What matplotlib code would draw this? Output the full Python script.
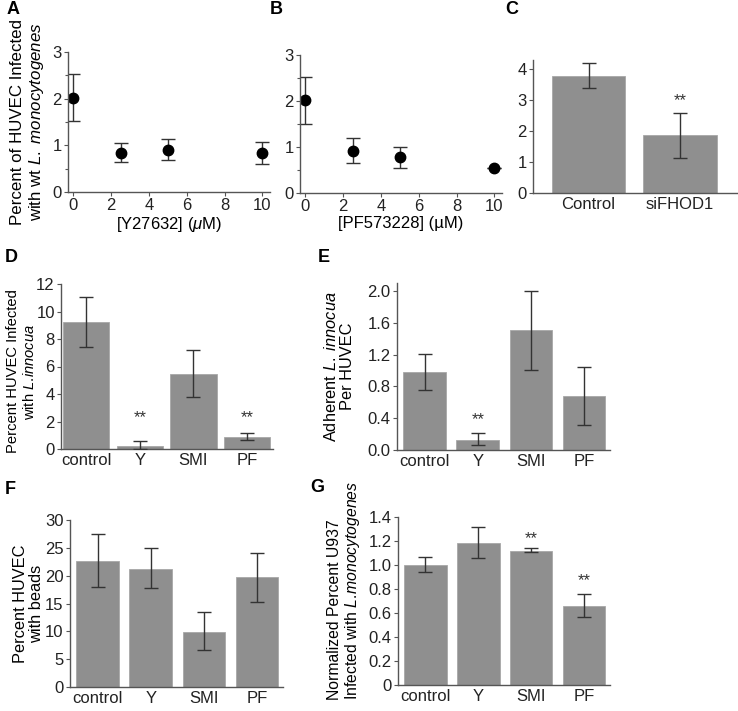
import matplotlib
matplotlib.use("Agg")
import matplotlib.pyplot as plt

plt.rcParams['font.family'] = ['Liberation Sans', 'DejaVu Sans']
plt.rcParams['mathtext.fontset'] = 'custom'
plt.rcParams['mathtext.rm'] = 'Liberation Sans'
plt.rcParams['mathtext.it'] = 'Liberation Sans:italic'

# panel A / B: dose response
dose = [0, 2.5, 5, 10]
y27632 = [2.02, 0.83, 0.91, 0.84]
y27632_lo = [1.52, 0.64, 0.68, 0.59]
y27632_hi = [2.53, 1.04, 1.13, 1.08]
pf573228 = [2.02, 0.92, 0.78, 0.54]
pf573228_lo = [1.51, 0.66, 0.54, 0.54]
pf573228_hi = [2.53, 1.19, 0.99, 0.54]

# panel C
sirna = ["Control", "siFHOD1"]
sirna_val = [3.79, 1.87]
sirna_lo = [3.38, 1.13]
sirna_hi = [4.21, 2.59]

drugs = ["control", "Y", "SMI", "PF"]
# panel D
innocua_inf = [9.24, 0.19, 5.45, 0.87]
innocua_inf_lo = [7.42, 0.0, 3.81, 0.63]
innocua_inf_hi = [11.03, 0.55, 7.22, 1.16]
# panel E
adherent = [0.985, 0.13, 1.51, 0.68]
adherent_lo = [0.76, 0.06, 1.01, 0.31]
adherent_hi = [1.21, 0.21, 2.0, 1.05]
# panel F
beads = [22.7, 21.2, 9.97, 19.7]
beads_lo = [18.0, 17.8, 6.6, 15.3]
beads_hi = [27.4, 24.9, 13.4, 24.1]
# panel G
u937 = [0.996, 1.18, 1.12, 0.66]
u937_lo = [0.94, 1.06, 1.11, 0.565]
u937_hi = [1.066, 1.32, 1.14, 0.76]

BAR = '#8f8f8f'
ERR = '#333333'
SPINE = '#555555'
TICK_FS = 12

W, H = 738, 711
fig = plt.figure(figsize=(W / 100, H / 100), dpi=100)


def px_axes(l, t, r, b):
    return fig.add_axes([l / W, 1 - b / H, (r - l) / W, (b - t) / H])


def style(ax):
    for s in ['top', 'right']:
        ax.spines[s].set_visible(False)
    for s in ['left', 'bottom']:
        ax.spines[s].set_color(SPINE)
        ax.spines[s].set_linewidth(1.0)
    ax.tick_params(labelsize=TICK_FS, color=SPINE, length=3, width=0.8,
                   pad=1.5, labelcolor='#222222')
    ax.tick_params(which='minor', color=SPINE, length=2, width=0.8)


def errs(v, lo, hi):
    return [[a - b for a, b in zip(v, lo)], [b - a for a, b in zip(v, hi)]]


def ylabel(ax, text, fs, xright, ymid=0.5, align='center'):
    ax.set_ylabel(text, fontsize=fs, linespacing=1.1, multialignment=align)
    ax.yaxis.set_label_coords(xright, ymid)


def dose_panel(ax, vals, lo, hi, xlabel):
    ax.errorbar(dose, vals, yerr=errs(vals, lo, hi), fmt='o', color='black',
                ms=7.5, ecolor=ERR, elinewidth=1, capsize=5, capthick=1)
    ax.set_xlim(-0.28, 10.4)
    ax.set_ylim(0, 3)
    ax.set_xticks([0, 2, 4, 6, 8, 10])
    ax.set_yticks([0, 1, 2, 3])
    ax.set_yticks([0.5, 1.5, 2.5], minor=True)
    ax.set_xlabel(xlabel, fontsize=TICK_FS, labelpad=1)
    style(ax)


def bar_panel(ax, labels, vals, lo, hi, ylim, yticks, ticklabels=None,
              width=0.8, xlim=(-0.52, 3.49)):
    x = list(range(len(labels)))
    ax.bar(x, vals, width=width, color=BAR, edgecolor='#a8a8a8', linewidth=0.6,
           zorder=2)
    ax.errorbar(x, vals, yerr=errs(vals, lo, hi), fmt='none', ecolor=ERR,
                elinewidth=1, capsize=5, capthick=1, zorder=3)
    ax.set_xlim(*xlim)
    ax.set_ylim(*ylim)
    ax.set_xticks(x)
    ax.set_xticklabels(labels)
    ax.set_yticks(yticks)
    if ticklabels:
        ax.set_yticklabels(ticklabels)
    style(ax)
    ax.tick_params(axis='x', length=0, pad=3)


def stars(ax, xs, ys):
    for xx, yy in zip(xs, ys):
        ax.text(xx, yy, '**', ha='center', va='center', fontsize=12,
                color='#333333')


# A
axA = px_axes(68, 52, 270, 192)
dose_panel(axA, y27632, y27632_lo, y27632_hi, r'[Y27632] ($\mu$M)')
ylabel(axA, 'Percent of HUVEC Infected\nwith wt $\\it{L.\\ monocytogenes}$',
       12.2, -0.11)

# B
axB = px_axes(300, 55, 502, 193)
dose_panel(axB, pf573228, pf573228_lo, pf573228_hi, '[PF573228] (µM)')

# C
axC = px_axes(533, 60, 737, 193)
bar_panel(axC, sirna, sirna_val, sirna_lo, sirna_hi, (0, 4.3), [0, 1, 2, 3, 4],
          xlim=(-0.607, 1.623))
stars(axC, [1], [3.0])

# D
axD = px_axes(61, 284, 273, 449)
bar_panel(axD, drugs, innocua_inf, innocua_inf_lo, innocua_inf_hi, (0, 12),
          [0, 2, 4, 6, 8, 10, 12], width=0.86, xlim=(-0.466, 3.48))
stars(axD, [1, 3], [2.3, 2.3])
ylabel(axD, 'Percent HUVEC Infected\nwith $\\it{L.\\!innocua}$', 10.6, -0.115,
       ymid=0.47)

# E
axE = px_axes(397, 283, 610, 450)
bar_panel(axE, drugs, adherent, adherent_lo, adherent_hi, (0, 2.1),
          [0, 0.4, 0.8, 1.2, 1.6, 2.0],
          ['0.0', '0.4', '0.8', '1.2', '1.6', '2.0'])
stars(axE, [1], [0.38])
ylabel(axE, 'Adherent $\\it{L.\\ innocua}$\nPer HUVEC', 11.8, -0.197)

# F
axF = px_axes(70, 520, 283, 687)
bar_panel(axF, drugs, beads, beads_lo, beads_hi, (0, 30),
          [0, 5, 10, 15, 20, 25, 30])
ylabel(axF, 'Percent HUVEC\nwith beads', 11.8, -0.122)

# G
axG = px_axes(398, 517, 610, 685)
bar_panel(axG, drugs, u937, u937_lo, u937_hi, (0, 1.4),
          [0, 0.2, 0.4, 0.6, 0.8, 1.0, 1.2, 1.4],
          ['0', '0.2', '0.4', '0.6', '0.8', '1.0', '1.2', '1.4'])
stars(axG, [2, 3], [1.22, 0.87])
ylabel(axG, 'Normalized Percent U937\nInfected with $\\it{L.\\!monocytogenes}$',
       11.3, -0.17, ymid=0.565, align='left')

# panel letters
for letter, (lx, ly) in {'A': (7, 10), 'B': (270, 10), 'C': (505, 10),
                          'D': (5, 258), 'E': (318, 258), 'F': (5, 490),
                          'G': (310, 488)}.items():
    fig.text(lx / W, 1 - ly / H, letter, fontsize=13, fontweight='bold',
             ha='left', va='center')

fig.savefig('out.png', dpi=100)
